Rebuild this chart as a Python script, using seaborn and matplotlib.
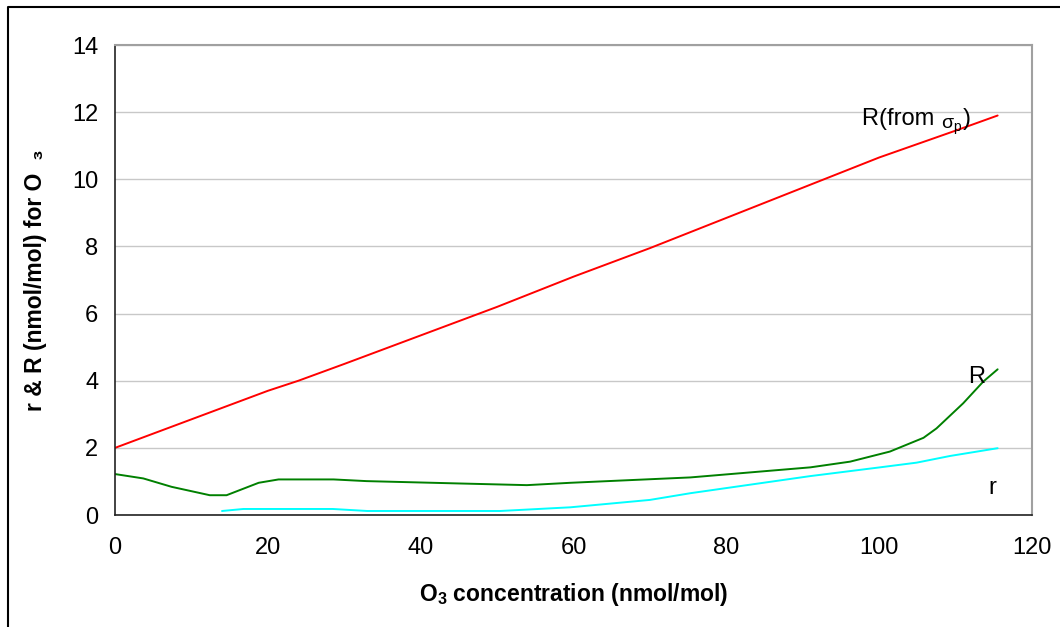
import matplotlib
matplotlib.use("Agg")
import matplotlib.pyplot as plt
import seaborn as sns
import pandas as pd
from matplotlib.lines import Line2D

# R from sigma_p (red)
x_sigma = [0, 10, 20, 24, 30, 40, 50, 60, 70, 80, 90, 100, 110, 115.5]
y_sigma = [2.0, 2.85, 3.7, 4.0, 4.5, 5.35, 6.2, 7.1, 7.95, 8.85, 9.75, 10.65, 11.45, 11.9]

# R (green)
x_R = [0, 3.7, 7.4, 12.4, 14.6, 18.8, 21.4, 28.6, 32.9, 45, 53.9, 59.6, 75.3, 91,
       96.2, 101.4, 105.8, 107.5, 111, 113.6, 115.5]
y_R = [1.22, 1.09, 0.84, 0.59, 0.59, 0.96, 1.06, 1.06, 1.01, 0.94, 0.89, 0.96, 1.12, 1.42,
       1.59, 1.89, 2.3, 2.58, 3.33, 3.97, 4.34]

# r (cyan)
x_r = [14, 16.8, 28.5, 33, 50.4, 59.6, 70, 75.3, 91, 100.1, 104.9, 109.3, 115.5]
y_r = [0.12, 0.18, 0.18, 0.12, 0.12, 0.23, 0.45, 0.65, 1.16, 1.42, 1.56, 1.76, 1.99]

df = pd.concat([
    pd.DataFrame({"x": x_sigma, "y": y_sigma, "serie": "sigma"}),
    pd.DataFrame({"x": x_R, "y": y_R, "serie": "R"}),
    pd.DataFrame({"x": x_r, "y": y_r, "serie": "r"}),
])
cores = {"sigma": "#ff0000", "R": "#008000", "r": "#00ffff"}

sns.set_style("white")
plt.rcParams["font.family"] = ["Liberation Sans", "DejaVu Sans"]
plt.rcParams["text.color"] = "black"
plt.rcParams["axes.labelcolor"] = "black"
plt.rcParams["mathtext.fontset"] = "custom"
plt.rcParams["mathtext.rm"] = "Liberation Sans"
plt.rcParams["mathtext.it"] = "Liberation Sans:italic"
plt.rcParams["mathtext.bf"] = "Liberation Sans:bold"

fig, ax = plt.subplots(figsize=(10.6, 6.27), dpi=100)
fig.subplots_adjust(left=0.1085, right=0.9736, top=0.9282, bottom=0.1786)

sns.lineplot(data=df, x="x", y="y", hue="serie", palette=cores, sort=False,
             estimator=None, linewidth=1.4, legend=False, ax=ax)

ax.set_xlim(0, 120)
ax.set_ylim(0, 14)
ax.set_xticks(range(0, 121, 20))
ax.set_yticks(range(0, 15, 2))
ax.tick_params(axis="both", direction="out", length=7, width=1, labelsize=17,
               colors="#222222", labelcolor="black")
ax.tick_params(axis="x", pad=9)
ax.tick_params(axis="y", pad=5)
ax.yaxis.grid(True, color="#c8c8c8", linewidth=1)
ax.set_axisbelow(True)
for lado in ["left", "bottom"]:
    ax.spines[lado].set_color("#222222")
    ax.spines[lado].set_linewidth(1.2)
for lado in ["top", "right"]:
    ax.spines[lado].set_color("#a0a0a0")
    ax.spines[lado].set_linewidth(1.5)

ax.set_xlabel(r"$\mathbf{O_3}$ concentration (nmol/mol)", fontsize=16.5,
              fontweight="bold", labelpad=16)
ax.set_ylabel("r & R (nmol/mol) for O  \u2083", fontsize=16.5, fontweight="bold",
              labelpad=18)

# rótulos das curvas
t1 = ax.text(97.8, 11.8, "R(from ", fontsize=17, ha="left", va="center")
t2 = ax.annotate(r"$\mathregular{\sigma_p}$", xy=(1.0, 0.12), xycoords=t1,
                 fontsize=14, ha="left", va="center")
ax.annotate(")", xy=(1.0, 0.5), xycoords=(t2, t1), fontsize=17, ha="left", va="center")
ax.text(111.6, 4.1, "R", fontsize=17, ha="left", va="center")
ax.text(114.3, 0.8, "r", fontsize=17, ha="left", va="center")

# moldura externa
fig.add_artist(Line2D([8 / 1060, 8 / 1060, 1.0], [0.0, 1 - 7 / 627, 1 - 7 / 627],
                      transform=fig.transFigure, color="black", linewidth=1.5))

fig.savefig("out.png", dpi=100)
